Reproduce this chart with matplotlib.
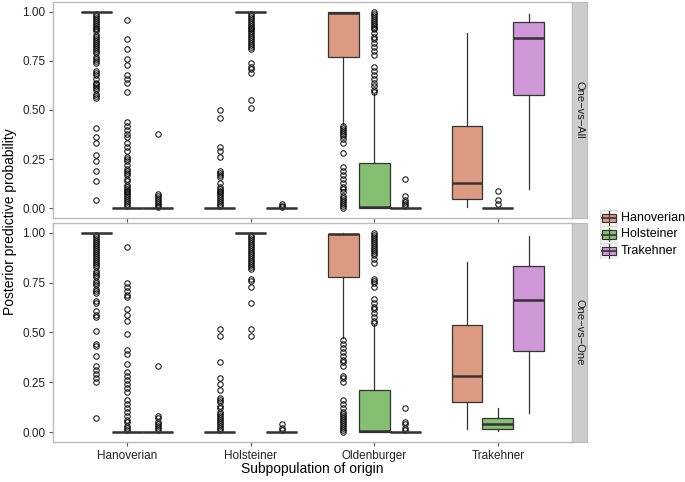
import numpy as np
import matplotlib
matplotlib.use('Agg')
import matplotlib.pyplot as plt
from matplotlib.patches import Rectangle

plt.rcParams['font.family'] = ['Liberation Sans', 'DejaVu Sans']

cats = ['Hanoverian', 'Holsteiner', 'Oldenburger', 'Trakehner']
groups = ['Hanoverian', 'Holsteiner', 'Trakehner']
colors = ['#DC9A81', '#85BF71', '#CF96D8']
facets = ['One\u2212vs\u2212All', 'One\u2212vs\u2212One']

# (whislo, q1, med, q3, whishi) for each category x group
ova_stats = [
    [(1, 1, 1, 1, 1), (0, 0, 0, 0, 0), (0, 0, 0, 0, 0)],
    [(0, 0, 0, 0, 0), (1, 1, 1, 1, 1), (0, 0, 0, 0, 0)],
    [(0.43, 0.77, 0.993, 0.997, 1.0), (0, 0, 0.005, 0.23, 0.58), (0, 0, 0, 0, 0)],
    [(0.005, 0.045, 0.13, 0.42, 0.89), (0, 0, 0, 0, 0), (0.10, 0.575, 0.865, 0.95, 0.99)],
]
ova_fliers = [
    [[0.99, 0.98, 0.97, 0.96, 0.95, 0.94, 0.93, 0.92, 0.91, 0.90, 0.88, 0.87, 0.86, 0.85,
      0.84, 0.83, 0.82, 0.81, 0.80, 0.79, 0.77, 0.76, 0.75, 0.74, 0.70, 0.69, 0.68, 0.66,
      0.64, 0.63, 0.62, 0.61, 0.60, 0.58, 0.57, 0.56, 0.41, 0.36, 0.33, 0.27, 0.24, 0.19,
      0.14, 0.04],
     [0.96, 0.86, 0.81, 0.76, 0.73, 0.68, 0.66, 0.64, 0.59, 0.44, 0.42, 0.40, 0.38, 0.36,
      0.33, 0.31, 0.29, 0.26, 0.25, 0.24, 0.22, 0.20, 0.19, 0.18, 0.17, 0.15, 0.14, 0.12,
      0.11, 0.10, 0.09, 0.08, 0.07, 0.06, 0.05, 0.04, 0.03, 0.02, 0.01],
     [0.38, 0.07, 0.06, 0.05, 0.04, 0.03, 0.02, 0.01, 0.005]],
    [[0.50, 0.46, 0.31, 0.29, 0.26, 0.19, 0.18, 0.17, 0.16, 0.13, 0.11, 0.10, 0.09, 0.08,
      0.07, 0.06, 0.05, 0.04, 0.03, 0.02, 0.01],
     [0.99, 0.98, 0.97, 0.96, 0.95, 0.94, 0.93, 0.92, 0.91, 0.90, 0.89, 0.88, 0.87, 0.86,
      0.85, 0.84, 0.83, 0.82, 0.81, 0.74, 0.72, 0.71, 0.69, 0.55, 0.51],
     [0.02, 0.01, 0.005]],
    [[0.42, 0.41, 0.40, 0.39, 0.38, 0.37, 0.35, 0.33, 0.28, 0.21, 0.19, 0.17, 0.15, 0.13,
      0.11, 0.10, 0.08, 0.06, 0.05, 0.04, 0.03, 0.02, 0.01, 0.0],
     [1.0, 0.99, 0.98, 0.97, 0.96, 0.95, 0.94, 0.93, 0.92, 0.91, 0.89, 0.87, 0.86, 0.84,
      0.82, 0.80, 0.78, 0.72, 0.70, 0.68, 0.66, 0.64, 0.62, 0.60, 0.59],
     [0.15, 0.06, 0.04, 0.03, 0.02, 0.01]],
    [[], [0.085, 0.04, 0.02], []],
]

ovo_stats = [
    [(1, 1, 1, 1, 1), (0, 0, 0, 0, 0), (0, 0, 0, 0, 0)],
    [(0, 0, 0, 0, 0), (1, 1, 1, 1, 1), (0, 0, 0, 0, 0)],
    [(0.47, 0.78, 0.993, 0.997, 1.0), (0, 0, 0.005, 0.21, 0.54), (0, 0, 0, 0, 0)],
    [(0.015, 0.15, 0.28, 0.54, 0.855), (0.005, 0.015, 0.04, 0.07, 0.12), (0.095, 0.405, 0.665, 0.835, 0.985)],
]
ovo_fliers = [
    [[0.99, 0.98, 0.97, 0.96, 0.95, 0.94, 0.93, 0.92, 0.91, 0.90, 0.89, 0.88, 0.87, 0.86,
      0.85, 0.84, 0.83, 0.81, 0.80, 0.79, 0.78, 0.76, 0.75, 0.74, 0.72, 0.71, 0.70, 0.66,
      0.65, 0.61, 0.59, 0.58, 0.51, 0.44, 0.43, 0.38, 0.33, 0.31, 0.29, 0.27, 0.25, 0.07],
     [0.93, 0.75, 0.73, 0.71, 0.69, 0.68, 0.62, 0.59, 0.56, 0.49, 0.41, 0.39, 0.34, 0.30,
      0.28, 0.26, 0.24, 0.22, 0.20, 0.16, 0.14, 0.12, 0.10, 0.08, 0.06, 0.05, 0.03, 0.02, 0.01],
     [0.33, 0.08, 0.07, 0.05, 0.04, 0.03, 0.02, 0.01]],
    [[0.52, 0.48, 0.35, 0.27, 0.24, 0.21, 0.17, 0.16, 0.15, 0.13, 0.12, 0.10, 0.09, 0.08,
      0.07, 0.06, 0.05, 0.04, 0.03, 0.02, 0.01],
     [0.99, 0.98, 0.97, 0.96, 0.95, 0.94, 0.93, 0.92, 0.91, 0.90, 0.89, 0.88, 0.87, 0.86,
      0.85, 0.84, 0.83, 0.82, 0.77, 0.76, 0.73, 0.65, 0.52, 0.48],
     [0.04, 0.02, 0.01]],
    [[0.46, 0.44, 0.42, 0.40, 0.38, 0.36, 0.35, 0.33, 0.28, 0.27, 0.25, 0.16, 0.14, 0.12,
      0.10, 0.09, 0.08, 0.07, 0.06, 0.05, 0.04, 0.03, 0.02, 0.01, 0.0],
     [1.0, 0.99, 0.98, 0.97, 0.96, 0.95, 0.94, 0.93, 0.92, 0.91, 0.90, 0.89, 0.87, 0.85,
      0.77, 0.76, 0.75, 0.73, 0.67, 0.65, 0.63, 0.62, 0.60, 0.58, 0.56, 0.55],
     [0.12, 0.05, 0.04, 0.02, 0.01]],
    [[], [], []],
]

W, H = 685, 482
fig = plt.figure(figsize=(W / 100, H / 100), dpi=100)

def px_axes(x0, y0, x1, y1):
    return fig.add_axes([x0 / W, 1 - y1 / H, (x1 - x0) / W, (y1 - y0) / H])

edge = '#333333'
panels = [(2, 218), (223, 442)]
all_stats = [ova_stats, ovo_stats]
all_fliers = [ova_fliers, ovo_fliers]

for p, (y0, y1) in enumerate(panels):
    ax = px_axes(53, y0, 572, y1)
    for ci in range(len(cats)):
        for gi in range(len(groups)):
            s = all_stats[p][ci][gi]
            st = dict(whislo=s[0], q1=s[1], med=s[2], q3=s[3], whishi=s[4],
                      fliers=all_fliers[p][ci][gi])
            pos = ci + 1 + (gi - 1) * 0.25
            ax.bxp([st], positions=[pos], widths=0.25, patch_artist=True,
                   showcaps=False,
                   boxprops=dict(facecolor=colors[gi], edgecolor=edge, linewidth=0.9),
                   whiskerprops=dict(color=edge, linewidth=0.9),
                   medianprops=dict(color=edge, linewidth=1.8, solid_capstyle='butt'),
                   flierprops=dict(marker='o', markerfacecolor='none', markeredgecolor='black',
                                   markersize=3.9, markeredgewidth=0.7))
    ax.set_xlim(0.4, 4.6)
    ax.set_ylim(-0.05, 1.05)
    ax.set_yticks([0, 0.25, 0.5, 0.75, 1.0])
    ax.set_yticklabels(['0.00', '0.25', '0.50', '0.75', '1.00'])
    ax.set_xticks(range(1, 5))
    if p == 1:
        ax.set_xticklabels(cats)
    else:
        ax.set_xticklabels([])
        ax.tick_params(axis='x', length=0)
    ax.tick_params(labelsize=8.5, colors='#555555', labelcolor='#222222', length=3, width=0.8, pad=2.5)
    for sp in ax.spines.values():
        sp.set_color('#BBBBBB')
        sp.set_linewidth(1.0)

    sx = px_axes(572, y0, 587, y1)
    sx.set_facecolor('#CCCCCC')
    sx.set_xticks([])
    sx.set_yticks([])
    for sp in sx.spines.values():
        sp.set_color('#BBBBBB')
    sx.text(0.5, 0.5, facets[p], rotation=270, ha='center', va='center',
            fontsize=8, color='#1A1A1A', transform=sx.transAxes)

fig.text(10 / W, 1 - 222 / H, 'Posterior predictive probability', rotation=90,
         ha='center', va='center', fontsize=10, color='black')
fig.text(312 / W, 1 - 469 / H, 'Subpopulation of origin', ha='center', va='center',
         fontsize=10, color='black')

# legend
lg = px_axes(600, 210, 618, 259)
lg.set_xlim(0, 1)
lg.set_ylim(0, 3)
lg.axis('off')
for gi, g in enumerate(groups):
    yb = 2 - gi
    lg.add_patch(Rectangle((0, yb), 1, 1, facecolor='#F2F2F2', edgecolor='#DDDDDD', lw=0.8))
    lg.plot([0.5, 0.5], [yb + 0.08, yb + 0.92], color=edge, lw=0.8)
    lg.add_patch(Rectangle((0.12, yb + 0.25), 0.76, 0.5, facecolor=colors[gi], edgecolor=edge, lw=0.8))
    lg.plot([0.12, 0.88], [yb + 0.5, yb + 0.5], color=edge, lw=1.2)
    fig.text(621 / W, 1 - (218 + gi * 16.3) / H, g, ha='left', va='center', fontsize=9)

fig.savefig('out.png', dpi=100)
